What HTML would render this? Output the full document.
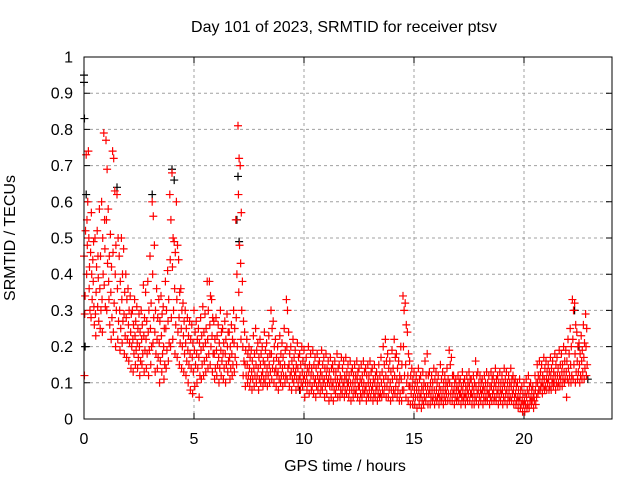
<!DOCTYPE html>
<html><head><meta charset="utf-8"><style>
html,body{margin:0;padding:0;background:#fff}
svg{display:block}
text{font-family:"Liberation Sans",sans-serif;font-size:16px;fill:#000}
</style></head><body>
<svg id="chart" width="640" height="480" viewBox="0 0 640 480" xmlns="http://www.w3.org/2000/svg">
<rect width="640" height="480" fill="#fff"/>
<text x="344" y="32" text-anchor="middle">Day 101 of 2023, SRMTID for receiver ptsv</text>
<text x="345" y="471" text-anchor="middle">GPS time / hours</text>
<text x="15" y="238" text-anchor="middle" transform="rotate(-90 15 238)">SRMTID / TECUs</text>
<g id="grid"></g>
<g id="axes"></g>
<g id="black"></g>
<g id="red"></g>
<rect x="84" y="57" width="528" height="362" fill="none" stroke="#000" stroke-width="1"/>
</svg>
<script>
const xTicks=[0,5,10,15,20];
const yTicks=[0,0.1,0.2,0.3,0.4,0.5,0.6,0.7,0.8,0.9,1];
const yTickLabels=["0","0.1","0.2","0.3","0.4","0.5","0.6","0.7","0.8","0.9","1"];
const startHour=0;
const hourStep=0.1;
const redV=[
[.45,.34,.12,.52,.29],[.73,.48,.40,.60,.55],[.74,.42,.50,.30,.36],[.46,.40,.28,.33,.57],[.44,.31,.38,.26,.49],
[.50,.35,.29,.42,.23],[.52,.39,.31,.27,.45],[.58,.45,.36,.30,.25],[.60,.50,.33,.40,.24],[.79,.47,.37,.31,.55],
[.77,.69,.55,.43,.30],[.58,.45,.38,.26,.33],[.51,.42,.35,.28,.22],[.74,.72,.46,.32,.24],[.63,.48,.40,.30,.20],
[.62,.50,.36,.27,.22],[.45,.38,.30,.25,.19],[.50,.40,.33,.27,.21],[.47,.35,.29,.23,.18],[.40,.33,.28,.22,.17],
[.36,.30,.26,.21,.16],[.34,.29,.24,.20,.14],[.30,.26,.22,.18,.13],[.33,.27,.23,.19,.15],[.31,.25,.21,.17,.14],
[.29,.24,.20,.16,.12],[.30,.26,.22,.18,.15],[.37,.28,.23,.19,.13],[.35,.27,.22,.18,.14],[.38,.30,.24,.19,.12],
[.45,.32,.25,.20,.15],[.60,.56,.40,.28,.21],[.48,.30,.24,.18,.13],[.36,.28,.22,.17,.14],[.33,.27,.21,.16,.10],
[.34,.29,.23,.18,.13],[.31,.25,.20,.15,.11],[.38,.30,.25,.19,.14],[.41,.33,.27,.21,.16],[.62,.55,.44,.28,.20],
[.68,.50,.42,.30,.22],[.49,.46,.36,.26,.18],[.60,.48,.33,.24,.17],[.44,.35,.28,.21,.15],[.36,.30,.25,.20,.14],
[.32,.27,.23,.18,.13],[.30,.25,.21,.16,.12],[.28,.23,.19,.15,.10],[.27,.22,.18,.14,.08],[.26,.21,.17,.13,.07],
[.30,.24,.19,.15,.09],[.27,.22,.18,.14,.10],[.25,.21,.17,.12,.06],[.28,.23,.19,.15,.11],[.31,.24,.20,.16,.12],
[.29,.25,.21,.17,.13],[.38,.30,.22,.18,.14],[.38,.34,.26,.20,.15],[.33,.28,.23,.18,.13],[.27,.22,.18,.14,.11],
[.28,.23,.19,.15,.12],[.26,.21,.17,.14,.10],[.30,.24,.19,.16,.12],[.25,.21,.18,.14,.11],[.27,.22,.18,.15,.10],
[.29,.24,.20,.16,.13],[.24,.20,.17,.14,.11],[.26,.22,.18,.15,.12],[.30,.25,.21,.17,.13],[.55,.40,.28,.20,.15],
[.81,.72,.62,.48,.35],[.70,.57,.43,.30,.22],[.38,.27,.20,.16,.12],[.24,.19,.15,.12,.09],[.22,.18,.15,.12,.10],
[.20,.17,.14,.11,.09],[.19,.16,.13,.11,.08],[.23,.18,.14,.12,.09],[.25,.19,.15,.12,.10],[.21,.17,.14,.11,.08],
[.22,.18,.15,.12,.10],[.20,.16,.13,.11,.09],[.24,.19,.15,.12,.10],[.21,.17,.14,.12,.09],[.23,.18,.15,.13,.10],
[.30,.25,.18,.14,.11],[.27,.20,.16,.13,.10],[.22,.17,.14,.12,.09],[.20,.16,.13,.11,.08],[.23,.18,.15,.12,.10],
[.21,.17,.14,.12,.09],[.25,.19,.15,.12,.10],[.33,.30,.20,.14,.11],[.24,.18,.15,.12,.09],[.20,.16,.13,.11,.08],
[.22,.17,.14,.12,.10],[.19,.15,.13,.11,.08],[.21,.17,.14,.11,.09],[.18,.15,.12,.10,.08],[.20,.16,.13,.11,.09],
[.19,.15,.12,.10,.06],[.17,.14,.12,.10,.08],[.20,.15,.13,.10,.07],[.18,.14,.12,.09,.08],[.19,.15,.12,.10,.07],
[.17,.14,.11,.09,.06],[.18,.15,.12,.10,.08],[.16,.13,.11,.09,.07],[.19,.15,.12,.10,.08],[.17,.14,.11,.09,.06],
[.18,.14,.12,.10,.07],[.16,.13,.11,.09,.05],[.17,.14,.11,.09,.06],[.15,.13,.10,.08,.05],[.16,.13,.11,.09,.07],
[.18,.14,.11,.09,.06],[.15,.12,.10,.08,.06],[.17,.14,.11,.09,.07],[.16,.12,.10,.08,.06],[.17,.13,.11,.09,.07],
[.15,.12,.10,.08,.06],[.16,.13,.10,.08,.05],[.14,.12,.10,.08,.06],[.15,.12,.10,.08,.07],[.16,.13,.11,.09,.06],
[.14,.11,.09,.07,.05],[.15,.12,.10,.08,.06],[.16,.13,.10,.08,.07],[.14,.12,.09,.07,.05],[.15,.12,.10,.08,.06],
[.16,.13,.10,.08,.06],[.14,.11,.09,.07,.05],[.15,.12,.10,.08,.06],[.13,.11,.09,.07,.05],[.15,.12,.09,.07,.06],
[.17,.13,.10,.08,.06],[.20,.15,.11,.09,.07],[.22,.16,.12,.09,.06],[.18,.14,.11,.08,.06],[.16,.13,.10,.08,.05],
[.19,.14,.11,.08,.06],[.22,.17,.12,.09,.07],[.18,.14,.11,.08,.06],[.16,.12,.10,.07,.05],[.20,.15,.11,.08,.05],
[.34,.30,.20,.12,.08],[.32,.26,.15,.10,.06],[.24,.18,.12,.09,.05],[.16,.12,.09,.07,.04],[.14,.11,.09,.06,.04],
[.13,.10,.08,.06,.04],[.12,.10,.08,.06,.03],[.14,.11,.08,.06,.04],[.12,.09,.07,.05,.03],[.13,.10,.08,.06,.04],
[.16,.12,.09,.07,.05],[.18,.12,.09,.07,.04],[.13,.10,.08,.06,.04],[.12,.10,.08,.06,.05],[.14,.11,.08,.06,.04],
[.13,.10,.08,.06,.05],[.12,.09,.07,.06,.04],[.15,.11,.08,.06,.05],[.13,.10,.08,.06,.04],[.12,.10,.08,.07,.05],
[.14,.11,.09,.07,.05],[.19,.15,.10,.07,.05],[.17,.12,.09,.07,.05],[.12,.10,.08,.06,.04],[.11,.09,.08,.06,.05],
[.12,.10,.08,.07,.05],[.11,.09,.07,.06,.04],[.13,.10,.08,.06,.05],[.11,.09,.07,.06,.04],[.12,.10,.08,.07,.05],
[.13,.11,.09,.07,.05],[.11,.09,.07,.06,.04],[.12,.10,.08,.06,.04],[.16,.12,.09,.07,.05],[.13,.10,.08,.06,.04],
[.12,.10,.08,.07,.05],[.11,.09,.08,.06,.04],[.12,.10,.08,.06,.05],[.13,.10,.08,.07,.05],[.12,.09,.07,.06,.04],
[.13,.11,.09,.07,.05],[.12,.10,.08,.06,.05],[.14,.11,.09,.07,.05],[.12,.10,.08,.06,.04],[.13,.10,.08,.07,.05],
[.12,.10,.08,.06,.04],[.14,.11,.09,.07,.05],[.13,.10,.08,.06,.04],[.12,.10,.08,.06,.05],[.14,.11,.09,.07,.05],
[.12,.10,.08,.06,.04],[.11,.09,.07,.05,.04],[.10,.08,.06,.05,.03],[.11,.08,.06,.04,.03],[.09,.07,.05,.04,.02],
[.10,.07,.05,.04,.02],[.11,.08,.06,.04,.03],[.12,.09,.07,.05,.03],[.10,.08,.06,.05,.04],[.09,.07,.06,.05,.03],
[.12,.10,.08,.06,.04],[.15,.12,.10,.08,.07],[.16,.13,.11,.09,.08],[.15,.12,.10,.09,.07],[.17,.14,.11,.09,.08],
[.16,.13,.11,.10,.08],[.15,.13,.11,.09,.08],[.17,.14,.12,.10,.08],[.16,.13,.11,.10,.09],[.18,.15,.12,.10,.08],
[.17,.14,.12,.10,.09],[.19,.15,.12,.11,.09],[.18,.15,.13,.11,.09],[.20,.16,.13,.11,.10],[.19,.16,.13,.11,.06],
[.22,.18,.14,.12,.10],[.25,.20,.15,.12,.10],[.33,.30,.22,.15,.11],[.32,.26,.18,.13,.10],[.24,.20,.16,.13,.11],
[.21,.18,.15,.12,.10],[.23,.19,.16,.13,.11],[.26,.21,.17,.14,.11],[.29,.25,.20,.15,.12]
];
const blackT=[0,0,0.02,0.1,0.05,1.5,3.1,4.0,4.1,6.95,7.0,7.05,9.8,12.0,22.3,22.5,22.9];
const blackV=[0.95,0.93,0.83,0.62,0.2,0.64,0.62,0.69,0.66,0.55,0.67,0.49,0.08,0.1,0.3,0.2,0.11];

const pointOffsets=[0,0.05,0.02,0.07,0.035];
const X0=84,X1=612,Y0=419,Y1=57,XMAX=24,YMAX=1;
function xs(h){return X0+(h/XMAX)*(X1-X0);}
function ys(v){return Y0-(v/YMAX)*(Y0-Y1);}
const NS="http://www.w3.org/2000/svg";
function mk(tag,attrs,parent){const e=document.createElementNS(NS,tag);for(const k in attrs)e.setAttribute(k,attrs[k]);parent.appendChild(e);return e;}
const grid=document.getElementById('grid'),axes=document.getElementById('axes');
xTicks.forEach(t=>{
  const x=xs(t);
  if(t>0){
    const g=mk('line',{x1:x,x2:x,y1:Y1,y2:Y0,stroke:'#a0a0a0','stroke-dasharray':'3,3','stroke-width':1},grid);
    
    
  }
  const tk=mk('path',{d:`M${x} ${Y0}v-6M${x} ${Y1}v6`,stroke:'#000'},axes);
  
  
  const lb=mk('text',{x:x,y:444,'text-anchor':'middle'},axes);
  lb.textContent=String(t);
  
  
});
yTicks.forEach((t,i)=>{
  const y=ys(t);
  if(t>0&&t<1){
    const g=mk('line',{x1:X0,x2:X1,y1:y,y2:y,stroke:'#a0a0a0','stroke-dasharray':'3,3','stroke-width':1},grid);
    
    
  }
  const tk=mk('path',{d:`M${X0} ${y}h6M${X1} ${y}h-6`,stroke:'#000'},axes);
  
  
  const lb=mk('text',{x:73,y:y+5.5,'text-anchor':'end'},axes);
  lb.textContent=yTickLabels[i];
  
  
});
function plus(x,y,color,parent){
  return mk('path',{d:`M${x-4} ${y}h8M${x} ${y-4}v8`,stroke:color,'stroke-width':1.2,fill:'none'},parent);
}
const bg=document.getElementById('black');
blackT.forEach((t,i)=>{
  const p=plus(xs(t),ys(blackV[i]),'#000',bg);
  
  
});
const rg=document.getElementById('red');
redV.forEach((row,i)=>{
  const h=startHour+i*hourStep;
  row.forEach((v,j)=>{
    const p=plus(xs(h+pointOffsets[j]),ys(v),'#ff0000',rg);
    
    
  });
});
</script>
</body></html>
